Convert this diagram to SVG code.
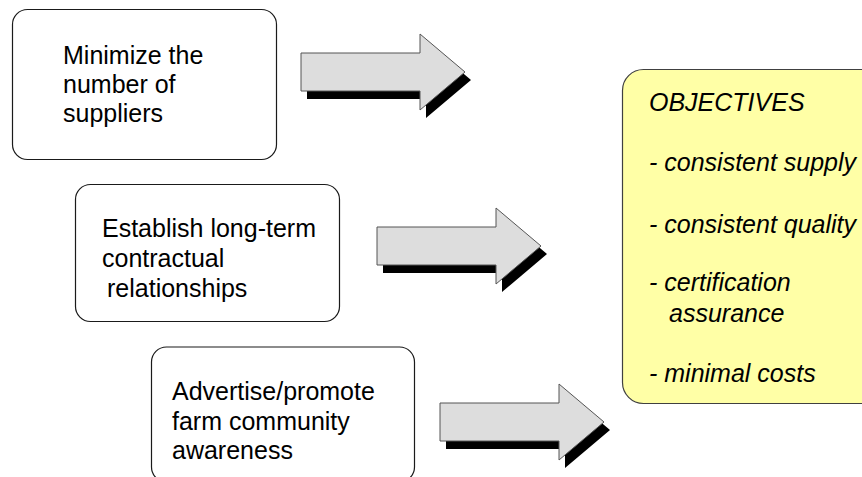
<svg xmlns="http://www.w3.org/2000/svg" xmlns:xlink="http://www.w3.org/1999/xlink" width="862" height="477" viewBox="0 0 862 477">
  <style>
    .box { fill: #ffffff; stroke: #1a1a1a; stroke-width: 1.2; }
    .goal { fill: #ffffa6; stroke: #404040; stroke-width: 1.2; }
    .label { font-family: "Liberation Sans", Arial, sans-serif; font-size: 25px; fill: #000000; }
    .goal-text { font-family: "Liberation Sans", Arial, sans-serif; font-size: 25px; font-style: italic; fill: #000000; }
    .arrow-body { fill: #dddddd; stroke: #555555; stroke-width: 1; }
    .arrow-shadow { fill: #000000; }
  </style>
  <defs>
    <!-- block arrow pointing right, origin at the tail centre -->
    <polygon id="block-arrow" points="0,-19 119,-19 119,-38 164,0 119,38 119,19 0,19"/>
  </defs>

  <g id="connectors">
    <g id="arrow-1" transform="translate(301,72)">
      <use xlink:href="#block-arrow" class="arrow-shadow" transform="translate(6,8)"/>
      <use xlink:href="#block-arrow" class="arrow-body"/>
    </g>
    <g id="arrow-2" transform="translate(377,246)">
      <use xlink:href="#block-arrow" class="arrow-shadow" transform="translate(6,8)"/>
      <use xlink:href="#block-arrow" class="arrow-body"/>
    </g>
    <g id="arrow-3" transform="translate(440,422)">
      <use xlink:href="#block-arrow" class="arrow-shadow" transform="translate(6,8)"/>
      <use xlink:href="#block-arrow" class="arrow-body"/>
    </g>
  </g>

  <g id="minimize-suppliers">
    <rect class="box" x="12.5" y="9.5" width="264" height="150" rx="15" ry="15"/>
    <text class="label" x="63" y="64">Minimize the</text>
    <text class="label" x="63" y="93">number of</text>
    <text class="label" x="63" y="122">suppliers</text>
  </g>

  <g id="long-term-contracts">
    <rect class="box" x="75.5" y="184.5" width="264" height="137" rx="15" ry="15"/>
    <text class="label" x="102" y="237">Establish long-term</text>
    <text class="label" x="102" y="267">contractual</text>
    <text class="label" x="107" y="297">relationships</text>
  </g>

  <g id="community-awareness">
    <rect class="box" x="151.5" y="347" width="263" height="135" rx="15" ry="15"/>
    <text class="label" x="172" y="400">Advertise/promote</text>
    <text class="label" x="172" y="430">farm community</text>
    <text class="label" x="172" y="459">awareness</text>
  </g>

  <g id="objectives">
    <rect class="goal" x="622.5" y="69.5" width="260" height="334" rx="21" ry="21"/>
    <text class="goal-text" x="649" y="111">OBJECTIVES</text>
    <text class="goal-text" x="649" y="171">- consistent supply</text>
    <text class="goal-text" x="649" y="233">- consistent quality</text>
    <text class="goal-text" x="649" y="291">- certification</text>
    <text class="goal-text" x="669" y="322">assurance</text>
    <text class="goal-text" x="649" y="382">- minimal costs</text>
  </g>
</svg>
